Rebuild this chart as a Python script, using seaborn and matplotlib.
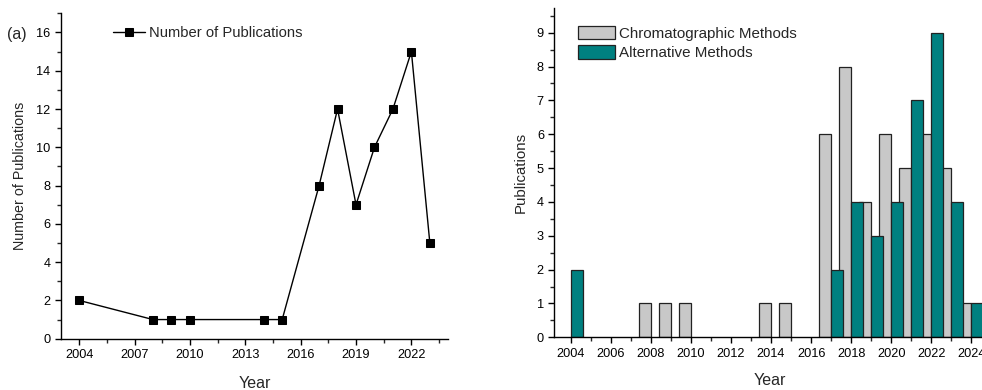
import matplotlib
matplotlib.use("Agg")
import matplotlib.pyplot as plt
import seaborn as sns
import pandas as pd
from matplotlib.ticker import MultipleLocator

# ---- data ----
years_total = [2004, 2008, 2009, 2010, 2014, 2015, 2017, 2018, 2019, 2020, 2021, 2022, 2023]
pubs_total = [2, 1, 1, 1, 1, 1, 8, 12, 7, 10, 12, 15, 5]

years_chrom = [2008, 2009, 2010, 2014, 2015, 2017, 2018, 2019, 2020, 2021, 2022, 2023, 2024]
chrom_vals = [1, 1, 1, 1, 1, 6, 8, 4, 6, 5, 6, 5, 1]

years_alt = [2004, 2017, 2018, 2019, 2020, 2021, 2022, 2023, 2024]
alt_vals = [2, 2, 4, 3, 4, 7, 9, 4, 1]

sns.set_theme(style="ticks")
plt.rcParams["font.family"] = ["Liberation Sans", "DejaVu Sans"]

W, H = 982, 390
fig = plt.figure(figsize=(W / 100, H / 100), dpi=100)

def ax_rect(l, r, t, b):
    return [l / W, 1 - b / H, (r - l) / W, (b - t) / H]

# ---- left panel ----
ax1 = fig.add_axes(ax_rect(60.7, 448.3, 13.3, 338.7))
df1 = pd.DataFrame({"Year": years_total, "Pubs": pubs_total})
sns.lineplot(data=df1, x="Year", y="Pubs", ax=ax1, color="black", lw=1.0,
             marker="s", markersize=5.2, markeredgecolor="black",
             label="Number of Publications")
ax1.set_xlim(2003, 2024)
ax1.set_ylim(0, 17)
ax1.xaxis.set_major_locator(MultipleLocator(3))
ax1.xaxis.set_minor_locator(MultipleLocator(1.5))
ax1.yaxis.set_major_locator(MultipleLocator(2))
ax1.yaxis.set_minor_locator(MultipleLocator(1))
for s in ["top", "right"]:
    ax1.spines[s].set_visible(False)
for s in ["left", "bottom"]:
    ax1.spines[s].set_linewidth(1.0)
    ax1.spines[s].set_color("black")
ax1.tick_params(which="major", direction="out", length=4, width=1, labelsize=9.2, colors="black")
ax1.tick_params(which="minor", direction="out", length=3, width=1)
ax1.set_xlabel("Year", fontsize=11.5)
ax1.set_ylabel("Number of Publications", fontsize=10.3)
ax1.xaxis.set_label_coords(0.5, -0.116)
ax1.yaxis.set_label_coords(-0.087, 0.5)
leg = ax1.legend(loc="upper left", bbox_to_anchor=(0.12, 0.98), frameon=False,
                 fontsize=10.6, handlelength=2.2, handletextpad=0.25, borderaxespad=0)
fig.text(7 / W, 1 - 35 / H, "(a)", fontsize=11.5, va="center", ha="left")

# ---- right panel ----
ax2 = fig.add_axes(ax_rect(554.3, 982, 8, 337.3))
df_c = pd.DataFrame({"Year": [y - 0.3 for y in years_chrom], "Pubs": chrom_vals})
df_a = pd.DataFrame({"Year": [y + 0.3 for y in years_alt], "Pubs": alt_vals})
sns.barplot(data=df_c, x="Year", y="Pubs", ax=ax2, native_scale=True, width=0.6,
            color="#c8c8c8", saturation=1, edgecolor="#222222", linewidth=0.9,
            label="Chromatographic Methods", errorbar=None)
sns.barplot(data=df_a, x="Year", y="Pubs", ax=ax2, native_scale=True, width=0.6,
            color="#008080", saturation=1, edgecolor="#222222", linewidth=0.9,
            label="Alternative Methods", errorbar=None)
ax2.set_xlim(2003.18, 2024.53)
ax2.set_ylim(0, 9.73)
ax2.xaxis.set_major_locator(MultipleLocator(2))
ax2.xaxis.set_minor_locator(MultipleLocator(1))
ax2.yaxis.set_major_locator(MultipleLocator(1))
ax2.yaxis.set_minor_locator(MultipleLocator(0.5))
ax2.xaxis.set_major_formatter(matplotlib.ticker.FormatStrFormatter("%d"))
for s in ["top", "right"]:
    ax2.spines[s].set_visible(False)
for s in ["left", "bottom"]:
    ax2.spines[s].set_linewidth(1.0)
    ax2.spines[s].set_color("black")
ax2.tick_params(which="major", direction="out", length=4, width=1, labelsize=9.2, colors="black")
ax2.tick_params(which="minor", direction="out", length=3, width=1)
ax2.set_xlabel("Year", fontsize=11.5)
ax2.set_ylabel("Publications", fontsize=10.8)
ax2.xaxis.set_label_coords((770 - 554.3) / (982 - 554.3), -0.108)
ax2.yaxis.set_label_coords(-0.0615, 0.5)
ax2.legend(loc="upper left", bbox_to_anchor=(0.042, 0.965), frameon=False,
           fontsize=10.9, handlelength=2.4, handleheight=1.0, handletextpad=0.3,
           labelspacing=0.3, borderaxespad=0)

fig.savefig("out.png", dpi=100)
